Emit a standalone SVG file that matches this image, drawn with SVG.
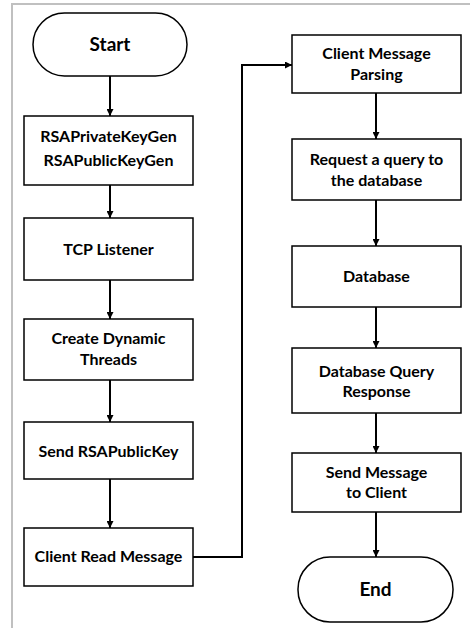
<svg xmlns="http://www.w3.org/2000/svg" width="470" height="628" viewBox="0 0 470 628">
  <style>
    .box { fill: #ffffff; stroke: #000000; stroke-width: 1.5; }
    .lbl { font-family: Lato, "Open Sans", sans-serif; font-weight: bold; font-size: 16px; fill: #000000; text-anchor: middle; }
    .term { font-size: 19px; }
    .edge { fill: none; stroke: #000000; stroke-width: 2; }
    .frame { fill: none; stroke: #c0c0c0; stroke-width: 2; }
  </style>
  <defs>
    <marker id="arrow" viewBox="0 0 8 8" refX="8" refY="4" markerWidth="3.5" markerHeight="3.5" orient="auto" markerUnits="strokeWidth">
      <path d="M0,0 L8,4 L0,8 z" fill="#000000"/>
    </marker>
  </defs>

  <rect width="470" height="628" fill="#ffffff"/>
  <!-- page frame -->
  <path class="frame" d="M12,628 V4 H470"/>

  <!-- connectors -->
  <g id="connectors">
    <path class="edge" d="M110,76 V116" marker-end="url(#arrow)"/>
    <path class="edge" d="M110,185 V218" marker-end="url(#arrow)"/>
    <path class="edge" d="M110,280 V319" marker-end="url(#arrow)"/>
    <path class="edge" d="M110,380 V422" marker-end="url(#arrow)"/>
    <path class="edge" d="M110,479 V528" marker-end="url(#arrow)"/>
    <path class="edge" d="M193,557 H242 V65 H292" marker-end="url(#arrow)"/>
    <path class="edge" d="M376,93 V139" marker-end="url(#arrow)"/>
    <path class="edge" d="M376,200 V246" marker-end="url(#arrow)"/>
    <path class="edge" d="M376,307 V348" marker-end="url(#arrow)"/>
    <path class="edge" d="M376,413 V453" marker-end="url(#arrow)"/>
    <path class="edge" d="M376,512 V557" marker-end="url(#arrow)"/>
  </g>

  <g id="start">
    <rect class="box" x="33" y="13" width="154" height="63" rx="31.5" ry="31.5"/>
    <text class="lbl term" x="110" y="51">Start</text>
  </g>
  <g id="keygen">
    <rect class="box" x="24" y="116" width="169" height="69"/>
    <text class="lbl" x="108.5" y="142">RSAPrivateKeyGen</text>
    <text class="lbl" x="108.5" y="166">RSAPublicKeyGen</text>
  </g>
  <g id="tcp-listener">
    <rect class="box" x="24" y="218" width="169" height="62"/>
    <text class="lbl" x="108.5" y="255">TCP Listener</text>
  </g>
  <g id="dynamic-threads">
    <rect class="box" x="24" y="319" width="169" height="61"/>
    <text class="lbl" x="108.5" y="344">Create Dynamic</text>
    <text class="lbl" x="108.5" y="365">Threads</text>
  </g>
  <g id="send-public-key">
    <rect class="box" x="24" y="422" width="169" height="57"/>
    <text class="lbl" x="108.5" y="457">Send RSAPublicKey</text>
  </g>
  <g id="client-read">
    <rect class="box" x="24" y="528" width="169" height="58"/>
    <text class="lbl" x="108.5" y="562">Client Read Message</text>
  </g>

  <g id="message-parsing">
    <rect class="box" x="292" y="35" width="169" height="58"/>
    <text class="lbl" x="376.5" y="59">Client Message</text>
    <text class="lbl" x="376.5" y="80">Parsing</text>
  </g>
  <g id="request-query">
    <rect class="box" x="292" y="139" width="169" height="61"/>
    <text class="lbl" x="376.5" y="165">Request a query to</text>
    <text class="lbl" x="376.5" y="186">the database</text>
  </g>
  <g id="database">
    <rect class="box" x="292" y="246" width="169" height="61"/>
    <text class="lbl" x="376.5" y="282">Database</text>
  </g>
  <g id="query-response">
    <rect class="box" x="292" y="348" width="169" height="65"/>
    <text class="lbl" x="376.5" y="377">Database Query</text>
    <text class="lbl" x="376.5" y="397">Response</text>
  </g>
  <g id="send-to-client">
    <rect class="box" x="292" y="453" width="169" height="59"/>
    <text class="lbl" x="376.5" y="478">Send Message</text>
    <text class="lbl" x="376.5" y="498">to Client</text>
  </g>
  <g id="end">
    <rect class="box" x="298" y="557" width="155" height="65" rx="32" ry="32"/>
    <text class="lbl term" x="375.5" y="596">End</text>
  </g>
</svg>
